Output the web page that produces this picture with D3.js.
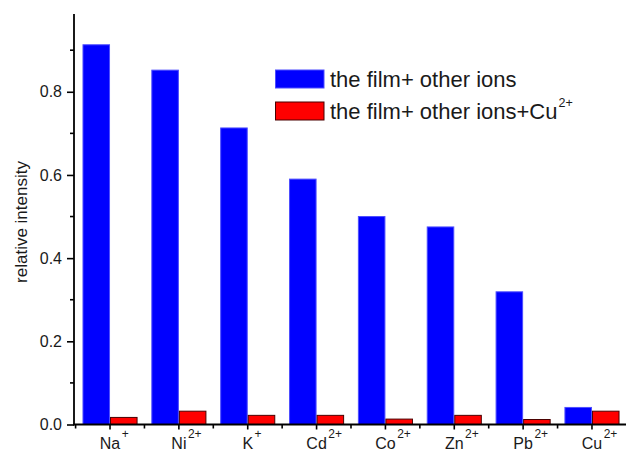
<!DOCTYPE html>
<html>
<head>
<meta charset="utf-8">
<script src="https://cdn.jsdelivr.net/npm/d3@7"></script>
<style>
  html, body { margin: 0; padding: 0; background: #fff; }
  svg { display: block; font-family: Arial, "Liberation Sans", sans-serif; }
</style>
</head>
<body>
<svg id="chart" width="626" height="450"></svg>
<script>
// Ions tested (base symbol + charge written as superscript)
const ions = ["Na", "Ni", "K", "Cd", "Co", "Zn", "Pb", "Cu"];
const charges = ["+", "2+", "+", "2+", "2+", "2+", "2+", "2+"];

// Relative intensity of the film with each ion, and after adding Cu2+
const filmOther = [0.913, 0.852, 0.713, 0.590, 0.500, 0.475, 0.319, 0.041];
const filmOtherCu = [0.017, 0.032, 0.022, 0.022, 0.013, 0.022, 0.012, 0.032];

const seriesNames = ["the film+ other ions", "the film+ other ions+Cu"];
const seriesSup = ["", "2+"];
const seriesFill = ["#0000ff", "#ff0000"];
const seriesStroke = ["#4d4dff", "#4a0000"];

const yMajorTicks = [0, 0.2, 0.4, 0.6, 0.8];
const yMinorTicks = [0.1, 0.3, 0.5, 0.7, 0.9];
const yTitle = "relative intensity";

const FONT = "Arial, 'Liberation Sans', sans-serif";
const svg = d3.select("#chart");
const x0 = 74, x1 = 626.4, yZero = 424.5, yTop = 14;

const x = d3.scaleBand().domain(ions).range([75.6, 626.4])
  .paddingInner(0.2).paddingOuter(0.1);
const xSub = d3.scaleBand().domain([0, 1]).range([0, x.bandwidth()]);
const y = d3.scaleLinear().domain([0, 0.987]).range([yZero, yTop]);

const rows = ions.map((ion, i) => ({ ion, vals: [filmOther[i], filmOtherCu[i]] }));

// bars
const groups = svg.append("g").selectAll("g").data(rows).join("g")
  .attr("transform", d => `translate(${x(d.ion)},0)`);
groups.selectAll("rect").data(d => d.vals.map((v, k) => ({ v, k }))).join("rect")
  .attr("x", d => xSub(d.k) + 0.5)
  .attr("width", xSub.bandwidth() - 1)
  .attr("y", d => y(d.v))
  .attr("height", d => y(0) - y(d.v))
  .attr("fill", d => seriesFill[d.k])
  .attr("stroke", d => seriesStroke[d.k])
  .attr("stroke-width", 1);

// y axis
const yAxis = svg.append("g").attr("transform", `translate(${x0},0)`);
yAxis.call(d3.axisLeft(y).tickValues(yMajorTicks).tickSize(7).tickPadding(5)
  .tickFormat(d3.format(".1f")));
yAxis.attr("font-family", FONT).attr("font-size", 16);
yAxis.select(".domain").remove();
yAxis.selectAll(".tick line").attr("stroke", "#000").attr("stroke-width", 1.6);
yAxis.selectAll(".tick text").attr("fill", "#1a1a1a");
yAxis.selectAll(".minor").data(yMinorTicks).join("line").attr("class", "minor")
  .attr("x1", -4).attr("x2", 0).attr("y1", d => y(d)).attr("y2", d => y(d))
  .attr("stroke", "#000").attr("stroke-width", 1.6);
yAxis.append("line").attr("x1", 0).attr("x2", 0).attr("y1", yTop).attr("y2", yZero + 0.8)
  .attr("stroke", "#000").attr("stroke-width", 1.8);

// x axis
const xAxis = svg.append("g").attr("transform", `translate(0,${yZero})`);
xAxis.append("line").attr("x1", x0 - 1).attr("x2", x1).attr("stroke", "#000").attr("stroke-width", 1.8);
xAxis.selectAll(".major").data(ions).join("line").attr("class", "major")
  .attr("x1", d => x(d) + x.bandwidth() / 2).attr("x2", d => x(d) + x.bandwidth() / 2)
  .attr("y1", 0).attr("y2", 5).attr("stroke", "#000").attr("stroke-width", 1.6);
const bounds = ions.map(d => x(d) - x.step() * x.paddingInner() / 2);
xAxis.selectAll(".minor").data(bounds).join("line").attr("class", "minor")
  .attr("x1", d => d).attr("x2", d => d).attr("y1", 0).attr("y2", 4)
  .attr("stroke", "#000").attr("stroke-width", 1.6);

// category labels: base symbol centred on tick, charge raised to its right
const labels = svg.append("g").attr("font-family", FONT).selectAll("g").data(ions).join("g")
  .attr("transform", d => `translate(${x(d) + x.bandwidth() / 2},0)`);
labels.each(function (d, i) {
  const g = d3.select(this);
  const base = g.append("text").attr("x", 0).attr("y", 448.5)
    .attr("text-anchor", "middle").attr("font-size", 16).attr("fill", "#1a1a1a").text(d);
  const w = base.node().getComputedTextLength();
  g.append("text").attr("x", w / 2 + 1.5).attr("y", 438)
    .attr("font-size", 12).attr("fill", "#1a1a1a").text(charges[i]);
});

// y title
svg.append("text").attr("transform", "translate(27,222) rotate(-90)")
  .attr("font-family", FONT)
  .attr("text-anchor", "middle").attr("font-size", 17).attr("fill", "#1a1a1a").text(yTitle);

// legend
const legend = svg.append("g").attr("font-family", FONT);
seriesNames.forEach((name, k) => {
  const top = 70 + k * 32;
  legend.append("rect").attr("x", 275.5).attr("y", top).attr("width", 48.5).attr("height", 18)
    .attr("fill", seriesFill[k]).attr("stroke", seriesStroke[k]).attr("stroke-width", 1);
  const t = legend.append("text").attr("x", 330).attr("y", top + 16.5)
    .attr("font-size", 22).attr("fill", "#1a1a1a").text(name);
  if (seriesSup[k]) {
    const w = t.node().getComputedTextLength();
    legend.append("text").attr("x", 330 + w + 1).attr("y", top + 5)
      .attr("font-size", 12.5).attr("fill", "#1a1a1a").text(seriesSup[k]);
  }
});
</script>
</body>
</html>
